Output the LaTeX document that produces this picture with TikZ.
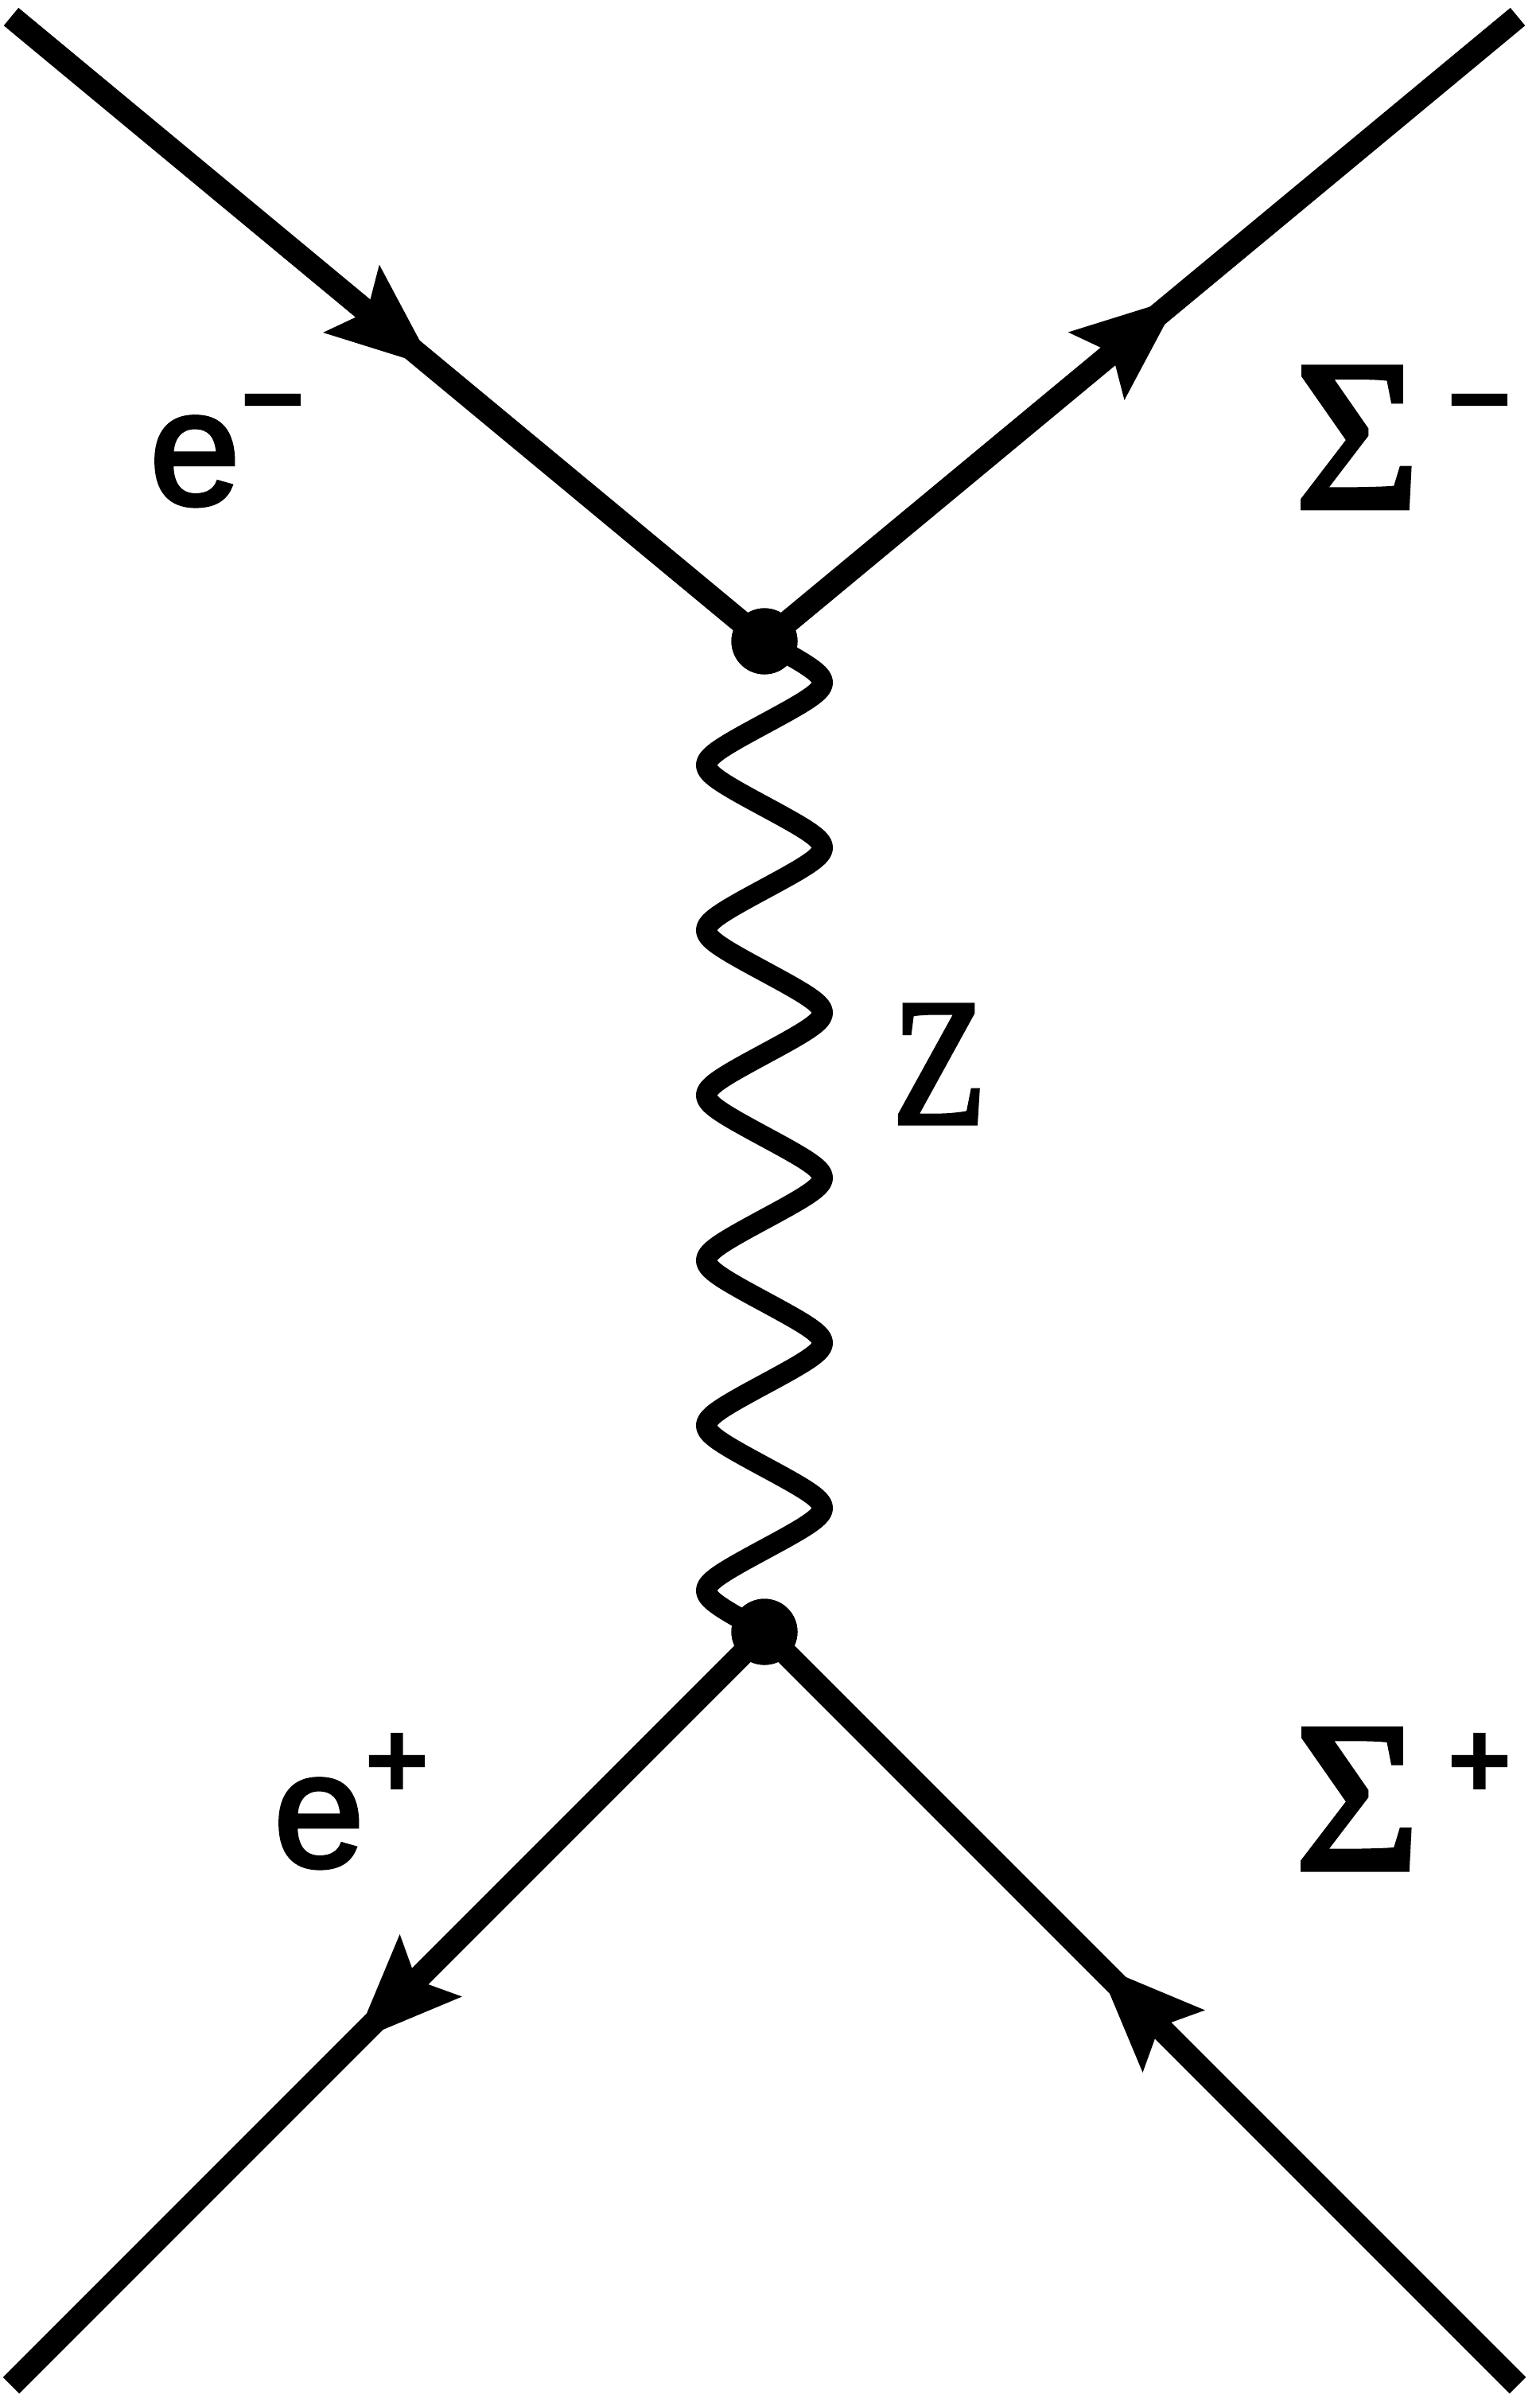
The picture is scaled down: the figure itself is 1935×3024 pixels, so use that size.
\documentclass[tikz,border=0pt]{standalone}
\usepackage{fontspec}
\setmainfont{Liberation Sans}
\newfontfamily\sansheavy{Liberation Sans}[FakeBold=2.5]
\newfontfamily\grfont{Liberation Serif}[FakeBold=2.5]
\usetikzlibrary{decorations.markings}
\tikzset{
  fermion/.style={line width=0.29cm, line cap=butt},
  boson/.style={line width=0.26cm, line join=round, line cap=round},
  vdot/.style={circle, fill=black, minimum size=0.83cm, inner sep=0pt},
  arrowout/.style={postaction={decorate}, decoration={markings,
      mark=at position #1 with {\fill (67.5,0) -- (-67.5,55.4) -- (-41.5,0) -- (-67.5,-55.4) -- cycle;}}},
  arrowin/.style={postaction={decorate}, decoration={markings,
      mark=at position #1 with {\fill (-67.5,0) -- (67.5,55.4) -- (41.5,0) -- (67.5,-55.4) -- cycle;}}},
  lbl/.style={inner sep=0pt, outer sep=0pt, anchor=base west},
  sup/.style={inner sep=0pt, outer sep=0pt, anchor=center, font=\fontsize{39.8pt}{40pt}\selectfont\bfseries},
}
\begin{document}
\begin{tikzpicture}[x=0.01cm, y=-0.01cm]
\useasboundingbox (0,0) rectangle (1935,3024);
% vertices
\node[vdot] (vt) at (961,806) {};
\node[vdot] (vb) at (961,2051) {};
% outer ends
\coordinate (eminus) at (14,21);
\coordinate (sminus) at (1908,21);
\coordinate (eplus) at (14,2998);
\coordinate (splus) at (1908,2998);
% fermion lines
\draw[fermion, arrowin=6.07cm] (vt.center) -- (eminus);
\draw[fermion, arrowout=6.09cm] (vt.center) -- (sminus);
\draw[fermion, arrowout=6.60cm] (vb.center) -- (eplus);
\draw[fermion, arrowin=6.60cm] (vb.center) -- (splus);
% boson line
\draw[boson, shift={(vt.center)}] plot[domain=0:12, samples=700] ({73*asin(0.85*sin(\x*180))/58.21}, {\x*103.75});
\node[vdot] at (vt) {};
\node[vdot] at (vb) {};
% labels
\node[lbl, font=\sansheavy\fontsize{58.3pt}{60pt}\selectfont] (le1) at (188,634) {e};
\node[sup] (le1s) at (343.7,522.7) {−};
\node[lbl, font=\sansheavy\fontsize{58.3pt}{60pt}\selectfont] (le2) at (344,2346) {e};
\node[sup] (le2s) at (499.7,2219.7) {+};
\node[lbl, font=\grfont\fontsize{76.5pt}{78pt}\selectfont] (ls1) at (1628,638) {Σ};
\node[sup] (ls1s) at (1860.3,522.7) {−};
\node[lbl, font=\grfont\fontsize{76.5pt}{78pt}\selectfont] (ls2) at (1628,2349.3) {Σ};
\node[sup] (ls2s) at (1860.3,2219.3) {+};
\node[lbl, font=\grfont\fontsize{64.5pt}{66pt}\selectfont] (lz) at (1122,1411.7) {\scalebox{0.85}[1]{Z}};
\end{tikzpicture}
\end{document}
